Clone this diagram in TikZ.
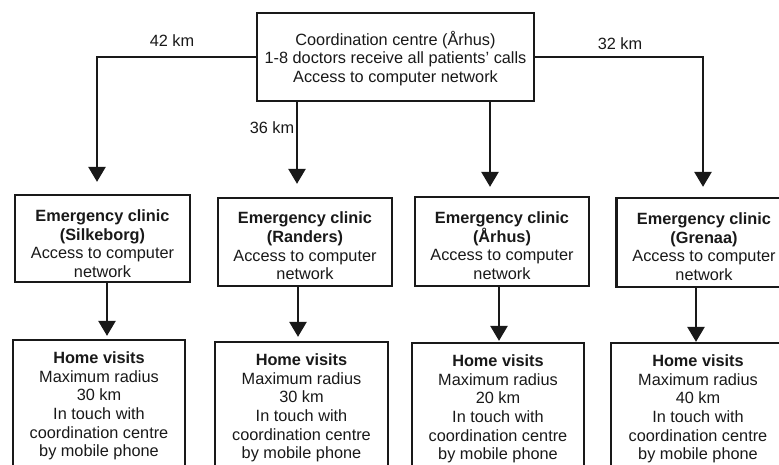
\documentclass[tikz,border=0pt]{standalone}
\usepackage{fontspec}
\setmainfont{Liberation Sans}
\usetikzlibrary{arrows.meta,calc}
\definecolor{ink}{RGB}{25,25,25}
\tikzset{
  box/.style={draw=ink, line width=2.3pt, inner sep=0pt},
  txt/.style={align=center, inner sep=0pt, text=ink, font=\fontsize{16.3}{18.6}\selectfont},
  arr/.style={draw=ink, line width=2.6pt, -{Triangle[width=17pt,length=15pt]}},
  lbl/.style={text=ink, font=\fontsize{16.3}{18.6}\selectfont, inner sep=0pt}
}
\begin{document}
\begin{tikzpicture}[x=1pt,y=-1pt]
\fill[white] (0,0) rectangle (779,464);
\clip (0,0) rectangle (779,464);
\node[box, minimum width=277pt, minimum height=88pt,
  label={[txt, yshift=-1.5pt]center:{Coordination centre (Århus)\\1-8 doctors receive all patients' calls\\Access to computer network}}] (top) at (395.5,57) {};
\node[box, minimum width=175pt, minimum height=87pt,
  label={[txt, yshift=-5pt]center:{\textbf{Emergency clinic}\\\textbf{(Silkeborg)}\\Access to computer\\network}}] (c1) at (102.5,238.5) {};
\node[box, minimum width=174pt, minimum height=88pt,
  label={[txt, yshift=-4pt]center:{\textbf{Emergency clinic}\\\textbf{(Randers)}\\Access to computer\\network}}] (c2) at (305,242) {};
\node[box, minimum width=174pt, minimum height=89pt,
  label={[txt, yshift=-4pt]center:{\textbf{Emergency clinic}\\\textbf{(Århus)}\\Access to computer\\network}}] (c3) at (502,241.5) {};
\node[box, minimum width=175pt, minimum height=89pt,
  label={[txt, yshift=-4pt]center:{\textbf{Emergency clinic}\\\textbf{(Grenaa)}\\Access to computer\\network}}] (c4) at (704,242.5) {};
\node[box, minimum width=172pt, minimum height=128pt,
  label={[txt, yshift=-2pt]center:{\textbf{Home visits}\\Maximum radius\\30 km\\In touch with\\coordination centre\\by mobile phone}}] (h1) at (99,404) {};
\node[box, minimum width=173pt, minimum height=128pt,
  label={[txt, yshift=-2pt]center:{\textbf{Home visits}\\Maximum radius\\30 km\\In touch with\\coordination centre\\by mobile phone}}] (h2) at (301.5,406) {};
\node[box, minimum width=172pt, minimum height=128pt,
  label={[txt, yshift=-2pt]center:{\textbf{Home visits}\\Maximum radius\\20 km\\In touch with\\coordination centre\\by mobile phone}}] (h3) at (498,407) {};
\node[box, minimum width=174pt, minimum height=128pt,
  label={[txt, yshift=-2pt]center:{\textbf{Home visits}\\Maximum radius\\40 km\\In touch with\\coordination centre\\by mobile phone}}] (h4) at (698,407) {};
% top connectors
\draw[arr, shorten >=12pt] (top.west) -| ([xshift=-5.5pt]c1.north);
\draw[arr, shorten >=13pt] ([xshift=-8pt]c2.north |- top.south) -- ([xshift=-8pt]c2.north);
\draw[arr, shorten >=9pt] ([xshift=-12pt]c3.north |- top.south) -- ([xshift=-12pt]c3.north);
\draw[arr, shorten >=10pt] (top.east) -| ([xshift=-1pt]c4.north);
% clinic to home
\draw[arr, shorten >=3pt] ([xshift=4.5pt]c1.south) -- ([xshift=4.5pt]c1.south |- h1.north);
\draw[arr, shorten >=4pt] ([xshift=-7pt]c2.south) -- ([xshift=-7pt]c2.south |- h2.north);
\draw[arr, shorten >=1pt] ([xshift=-3pt]c3.south) -- ([xshift=-3pt]c3.south |- h3.north);
\draw[arr, shorten >=0pt] ([xshift=-8pt]c4.south) -- ([xshift=-8pt]c4.south |- h4.north);
% labels
\node[lbl] (l42) at (172,41) {42 km};
\node[lbl] (l36) at (272,128) {36 km};
\node[lbl] (l32) at (620,44) {32 km};
\end{tikzpicture}
\end{document}
